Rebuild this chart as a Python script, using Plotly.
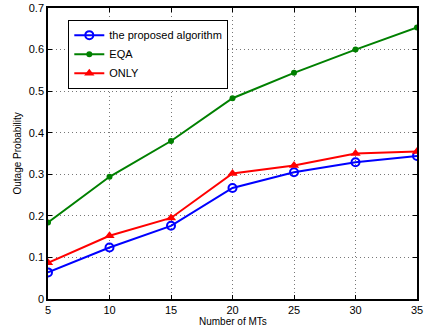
import plotly.graph_objects as go

mts = [5, 10, 15, 20, 25, 30, 35]
proposed = [0.064, 0.124, 0.176, 0.267, 0.305, 0.329, 0.344]
eqa = [0.184, 0.294, 0.380, 0.483, 0.544, 0.600, 0.653]
only = [0.087, 0.152, 0.195, 0.302, 0.321, 0.350, 0.355]

fig = go.Figure()
fig.add_trace(go.Scatter(x=mts, y=proposed, mode="lines+markers", name="the proposed algorithm",
                         line=dict(color="#0000ff", width=2),
                         marker=dict(symbol="circle-open", size=8, color="#0000ff", line=dict(width=2))))
fig.add_trace(go.Scatter(x=mts, y=eqa, mode="lines+markers", name="EQA",
                         line=dict(color="#008000", width=2),
                         marker=dict(symbol="circle", size=6, color="#008000")))
fig.add_trace(go.Scatter(x=mts, y=only, mode="lines+markers", name="ONLY",
                         line=dict(color="#ff0000", width=2),
                         marker=dict(symbol="triangle-up", size=9, color="#ff0000")))

axis_common = dict(showline=True, linecolor="black", linewidth=1.5, mirror="ticks",
                   ticks="inside", ticklen=4, tickcolor="black", tickwidth=1,
                   showgrid=True, gridcolor="#777777", griddash="1px,3px", gridwidth=1,
                   zeroline=False, automargin=False,
                   tickfont=dict(family="Liberation Sans, Arial", size=11, color="black"))

fig.update_xaxes(range=[5, 35], tickvals=mts, **axis_common)
fig.update_yaxes(range=[0, 0.7], dtick=0.1, tickformat="~g", **axis_common)

title_font = dict(family="Liberation Sans, Arial", size=10, color="black")
fig.add_annotation(text="Number of MTs", xref="paper", yref="paper", x=0.5, y=-0.079,
                   xanchor="center", yanchor="middle", showarrow=False, font=title_font)
fig.add_annotation(text="Outage Probability", xref="paper", yref="paper", x=-0.084, y=0.5,
                   xanchor="center", yanchor="middle", textangle=-90, showarrow=False, font=title_font)

fig.update_layout(
    width=427, height=329,
    margin=dict(l=48, r=10, t=8, b=30),
    paper_bgcolor="white", plot_bgcolor="white",
    font=dict(family="Liberation Sans, Arial", size=11, color="black"),
    legend=dict(x=0.055, y=0.96, xanchor="left", yanchor="top",
                bgcolor="white", bordercolor="black", borderwidth=1,
                font=dict(size=11), tracegroupgap=0, itemwidth=30),
)

fig.write_html("out.html")
